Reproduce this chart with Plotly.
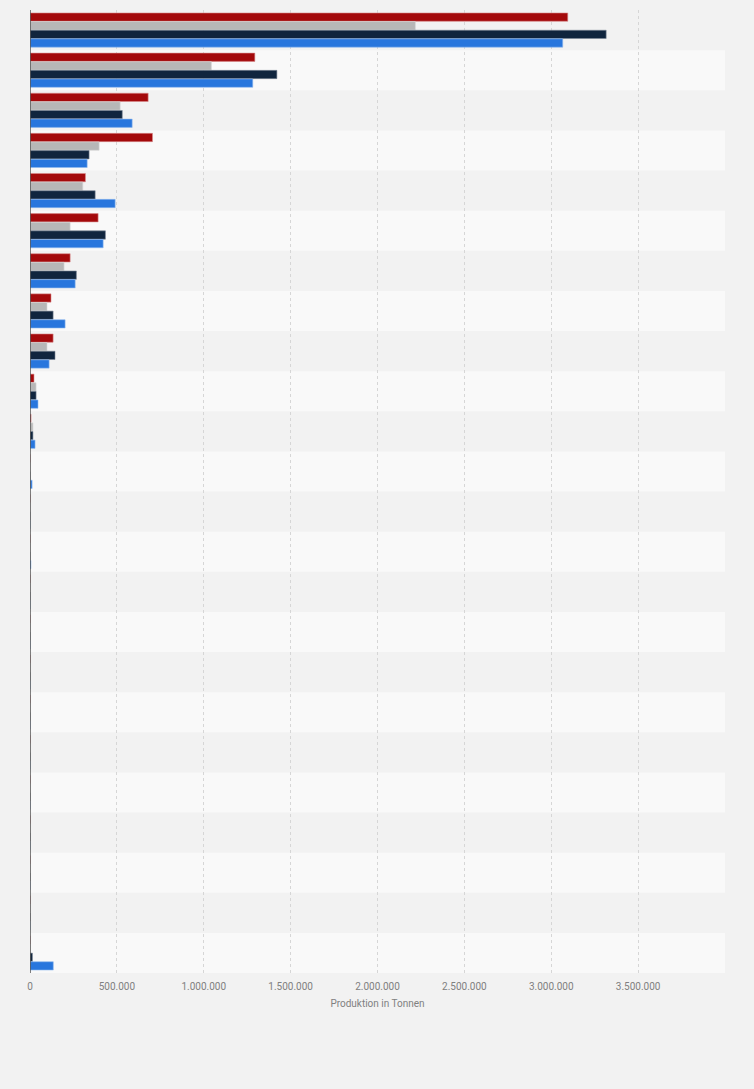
import plotly.graph_objects as go

categories = [f"Kategorie {i}" for i in range(1, 25)]
series_names = ["Serie 1", "Serie 2", "Serie 3", "Serie 4"]
red_vals = [3095000, 1294000, 680000, 705000, 319000, 392000, 231000, 121000, 133000, 23000, 6000,
            0, 0, 0, 0, 0, 0, 0, 0, 0, 0, 0, 0, 0]
grey_vals = [2218000, 1044000, 519000, 398000, 304000, 231000, 196000, 98000, 98000, 35000, 17000,
             0, 0, 0, 0, 0, 0, 0, 0, 0, 0, 0, 0, 0]
navy_vals = [3316000, 1421000, 531000, 340000, 375000, 434000, 267000, 133000, 144000, 35000, 17000,
             0, 0, 0, 0, 0, 0, 0, 0, 0, 0, 0, 0, 14000]
blue_vals = [3066000, 1282000, 588000, 329000, 490000, 421000, 260000, 202000, 110000, 46000, 29000,
             12000, 0, 5000, 0, 0, 0, 0, 0, 0, 0, 0, 0, 134000]
colors = ["#a3090b", "#b7b7b7", "#10253e", "#2876dd"]
line_colors = ["#d98a8a", "#d6d6d6", "#7c8796", "#8fb8ee"]
tick_vals = [0, 500000, 1000000, 1500000, 2000000, 2500000, 3000000, 3500000, 4000000]
tick_text = ["0", "500.000", "1.000.000", "1.500.000", "2.000.000", "2.500.000", "3.000.000", "3.500.000", ""]

fig = go.Figure()
for name, vals, c, lc in zip(series_names, [red_vals, grey_vals, navy_vals, blue_vals], colors, line_colors):
    fig.add_trace(go.Bar(
        y=categories, x=vals, name=name, orientation="h",
        marker=dict(color=c, line=dict(color=lc, width=0.6)),
    ))

shapes = []
for i in range(len(categories)):
    if i % 2 == 0:
        shapes.append(dict(type="rect", xref="paper", yref="y", x0=0, x1=1,
                           y0=i - 0.5, y1=i + 0.5, fillcolor="#f2f2f2",
                           line=dict(width=0), layer="below"))

fig.update_layout(
    width=754, height=1089,
    margin=dict(l=30, r=29, t=10, b=116),
    paper_bgcolor="#f2f2f2", plot_bgcolor="#f9f9f9",
    barmode="group", bargap=0.14, bargroupgap=0.04,
    showlegend=False,
    separators=",.",
    shapes=shapes,
    font=dict(family="Roboto, Arial, sans-serif", color="#666666", size=10),
    xaxis=dict(range=[0, 4000000], tickvals=tick_vals, ticktext=tick_text,
               showgrid=True, gridcolor="#d6d6d6", griddash="dot", gridwidth=1,
               zeroline=False, showline=False, ticks="", ticklabelstandoff=6,
               tickfont=dict(size=10, color="#808080"),
               title=dict(text="Produktion in Tonnen", font=dict(size=10, color="#808080"), standoff=8)),
    yaxis=dict(autorange="reversed", showticklabels=False, showgrid=False,
               zeroline=False, showline=False, ticks=""),
)
fig.add_shape(type="line", xref="x", yref="paper", x0=0, x1=0, y0=0, y1=1,
              line=dict(color="#555555", width=1.5), layer="above")

fig.write_html(
    "out.html",
    config={"displayModeBar": False},
    post_script="document.body.style.margin='0';document.body.style.background='#f2f2f2';document.body.style.overflow='hidden';",
)
